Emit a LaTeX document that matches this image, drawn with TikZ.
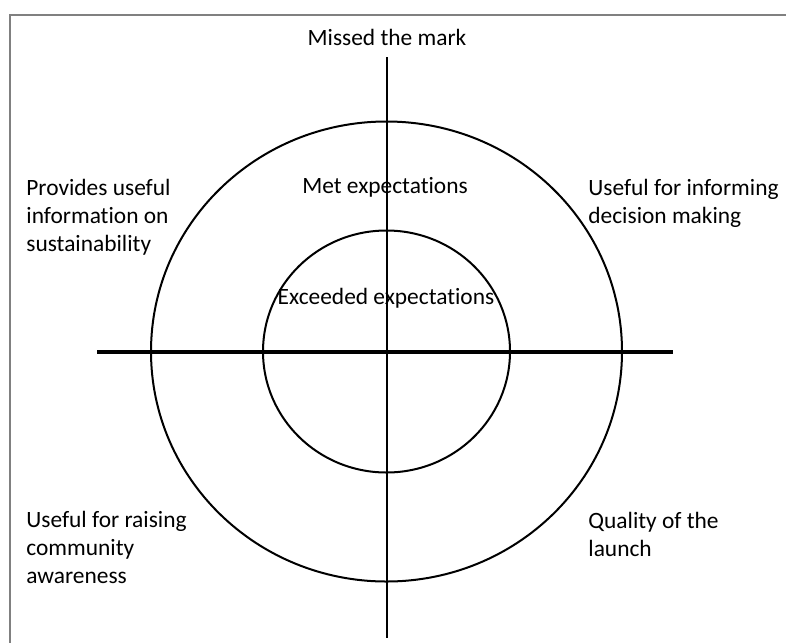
\documentclass[tikz,border=0pt]{standalone}
\usepackage{fontspec}
\setmainfont[Ligatures=NoCommon]{Carlito}
\usetikzlibrary{positioning}

\tikzset{
  quadrant/.style={font=\fontsize{11.7}{14}\selectfont, inner sep=0pt, align=left, anchor=base west},
  zone/.style={font=\fontsize{11.7}{14}\selectfont, inner sep=0pt, anchor=base},
  ring/.style={line width=1pt},
}

\begin{document}
\begin{tikzpicture}[x=0.5pt,y=-0.5pt]
    \useasboundingbox (0,0) rectangle (786,643);
    \draw[gray, line width=0.6pt] (786,15) -- (10,15) -- (10,643);

    \node[zone] (mark) at (387,45) {Missed the mark};
    \node[zone] (met) at (385,193) {Met expectations};
    \node[zone] (exceeded) at (386,304) {Exceeded expectations};

    % base of a multi-line node is its last line
    \node[quadrant] (sustain) at (26,251) {Provides useful\\information on\\sustainability};
    \node[quadrant] (informing) at (588,223) {Useful for informing\\decision making};
    \node[quadrant] (raising) at (26,583) {Useful for raising\\community\\awareness};
    \node[quadrant] (launch) at (588,556) {Quality of the\\launch};

    \coordinate (centre) at (386.5,351.5);
    \coordinate (top) at (387,57);
    \coordinate (bottom) at (387,638);
    \coordinate (left) at (97,352);
    \coordinate (right) at (673,352);
    \draw[ring] (centre) ellipse [x radius=235.5, y radius=230];
    \draw[ring] (centre) ellipse [x radius=123.5, y radius=121];
    \draw[line width=1pt] (top) -- (bottom);
    \draw[line width=1.6pt] (left) -- (right);
\end{tikzpicture}
\end{document}
